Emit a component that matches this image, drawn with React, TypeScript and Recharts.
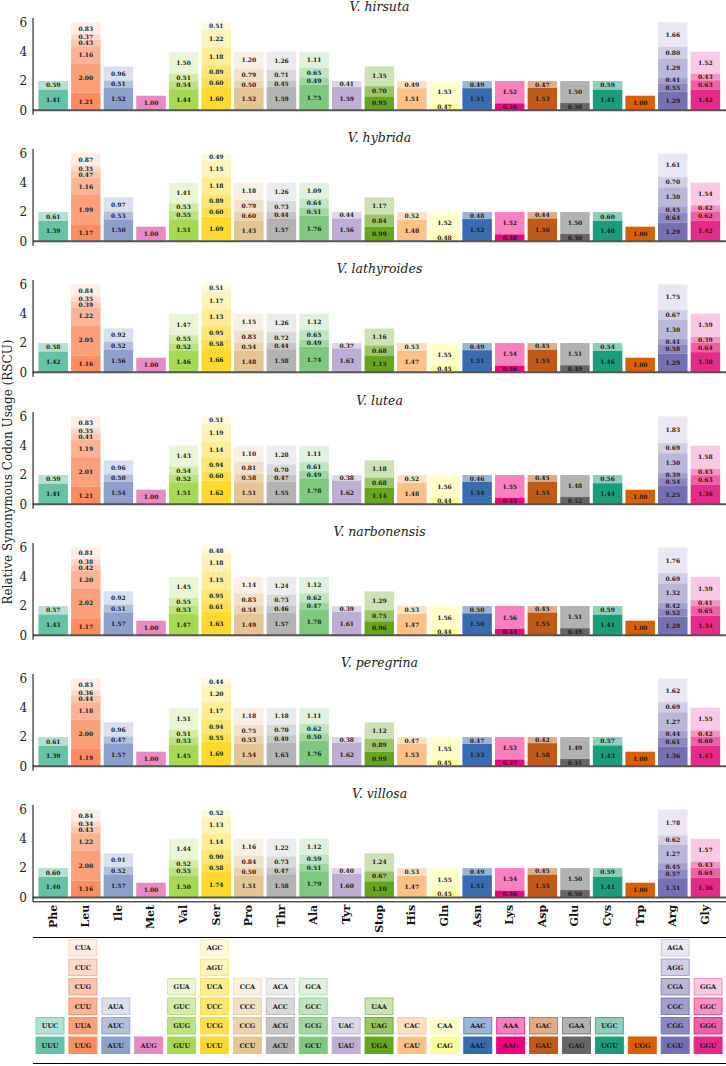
import { BarChart, Bar, XAxis, YAxis, ReferenceLine } from 'recharts';

const FONT = '"DejaVu Serif", serif';

const AMINO_ACIDS = ['Phe', 'Leu', 'Ile', 'Met', 'Val', 'Ser', 'Pro', 'Thr', 'Ala', 'Tyr', 'Stop', 'His', 'Gln', 'Asn', 'Lys', 'Asp', 'Glu', 'Cys', 'Trp', 'Arg', 'Gly'];

// codons of each amino acid, listed from the bottom of the stack upwards
const CODONS = [
  ['UUU', 'UUC'],
  ['UUG', 'UUA', 'CUU', 'CUG', 'CUC', 'CUA'],
  ['AUU', 'AUC', 'AUA'],
  ['AUG'],
  ['GUU', 'GUG', 'GUC', 'GUA'],
  ['UCU', 'UCG', 'UCC', 'UCA', 'AGU', 'AGC'],
  ['CCU', 'CCG', 'CCC', 'CCA'],
  ['ACU', 'ACG', 'ACC', 'ACA'],
  ['GCU', 'GCG', 'GCC', 'GCA'],
  ['UAU', 'UAC'],
  ['UGA', 'UAG', 'UAA'],
  ['CAU', 'CAC'],
  ['CAG', 'CAA'],
  ['AAU', 'AAC'],
  ['AAG', 'AAA'],
  ['GAU', 'GAC'],
  ['GAG', 'GAA'],
  ['UGU', 'UGC'],
  ['UGG'],
  ['CGU', 'CGG', 'CGC', 'CGA', 'AGG', 'AGA'],
  ['GGU', 'GGG', 'GGC', 'GGA'],
];

const AA_COLORS = [
  '#66c2a5', '#fc8d62', '#8da0cb', '#e78ac3', '#a6d854', '#ffd92f', '#e5c494', '#b3b3b3',
  '#7fc97f', '#beaed4', '#66a61e', '#fdc086', '#ffff99', '#386cb0', '#f0027f', '#bf5b17',
  '#666666', '#1b9e77', '#d95f02', '#7570b3', '#e7298a',
];

const SPECIES = ['V. hirsuta', 'V. hybrida', 'V. lathyroides', 'V. lutea', 'V. narbonensis', 'V. peregrina', 'V. villosa'];

const HIRSUTA = [
  [1.41, 0.59], [1.21, 2.00, 1.16, 0.43, 0.37, 0.83], [1.52, 0.51, 0.96], [1.00],
  [1.44, 0.54, 0.51, 1.50], [1.60, 0.60, 0.89, 1.18, 1.22, 0.51], [1.52, 0.50, 0.79, 1.20],
  [1.59, 0.45, 0.71, 1.26], [1.75, 0.49, 0.65, 1.11], [1.59, 0.41], [0.95, 0.70, 1.35],
  [1.51, 0.49], [0.47, 1.53], [1.51, 0.49], [0.48, 1.52], [1.53, 0.47], [0.50, 1.50],
  [1.41, 0.59], [1.00], [1.29, 0.55, 0.41, 1.29, 0.80, 1.66], [1.42, 0.63, 0.43, 1.52],
];
const HYBRIDA = [
  [1.39, 0.61], [1.17, 1.99, 1.16, 0.47, 0.35, 0.87], [1.50, 0.53, 0.97], [1.00],
  [1.51, 0.55, 0.53, 1.41], [1.69, 0.60, 0.89, 1.18, 1.15, 0.49], [1.43, 0.60, 0.79, 1.18],
  [1.57, 0.44, 0.73, 1.26], [1.76, 0.51, 0.64, 1.09], [1.56, 0.44], [0.99, 0.84, 1.17],
  [1.48, 0.52], [0.48, 1.52], [1.52, 0.48], [0.48, 1.52], [1.56, 0.44], [0.50, 1.50],
  [1.40, 0.60], [1.00], [1.29, 0.64, 0.45, 1.30, 0.70, 1.61], [1.42, 0.62, 0.42, 1.54],
];
const LATHYROIDES = [
  [1.42, 0.58], [1.16, 2.05, 1.22, 0.39, 0.35, 0.84], [1.56, 0.52, 0.92], [1.00],
  [1.46, 0.52, 0.55, 1.47], [1.66, 0.58, 0.95, 1.13, 1.17, 0.51], [1.48, 0.54, 0.83, 1.15],
  [1.58, 0.44, 0.72, 1.26], [1.74, 0.49, 0.65, 1.12], [1.63, 0.37], [1.15, 0.68, 1.16],
  [1.47, 0.53], [0.45, 1.55], [1.51, 0.49], [0.46, 1.54], [1.55, 0.45], [0.49, 1.51],
  [1.46, 0.54], [1.00], [1.29, 0.58, 0.41, 1.30, 0.67, 1.75], [1.38, 0.64, 0.39, 1.59],
];
const LUTEA = [
  [1.41, 0.59], [1.21, 2.01, 1.19, 0.41, 0.35, 0.83], [1.54, 0.50, 0.96], [1.00],
  [1.51, 0.52, 0.54, 1.43], [1.62, 0.60, 0.94, 1.14, 1.19, 0.51], [1.51, 0.58, 0.81, 1.10],
  [1.55, 0.47, 0.70, 1.28], [1.78, 0.49, 0.61, 1.11], [1.62, 0.38], [1.14, 0.68, 1.18],
  [1.48, 0.52], [0.44, 1.56], [1.54, 0.46], [0.45, 1.55], [1.55, 0.45], [0.52, 1.48],
  [1.44, 0.56], [1.00], [1.25, 0.54, 0.39, 1.30, 0.69, 1.83], [1.36, 0.63, 0.43, 1.58],
];
const NARBONENSIS = [
  [1.43, 0.57], [1.17, 2.02, 1.20, 0.42, 0.38, 0.81], [1.57, 0.51, 0.92], [1.00],
  [1.47, 0.53, 0.55, 1.45], [1.63, 0.61, 0.95, 1.15, 1.18, 0.48], [1.49, 0.54, 0.83, 1.14],
  [1.57, 0.46, 0.73, 1.24], [1.78, 0.47, 0.62, 1.12], [1.61, 0.39], [0.96, 0.75, 1.29],
  [1.47, 0.53], [0.44, 1.56], [1.50, 0.50], [0.44, 1.56], [1.55, 0.45], [0.49, 1.51],
  [1.41, 0.59], [1.00], [1.28, 0.52, 0.42, 1.32, 0.69, 1.76], [1.34, 0.65, 0.41, 1.59],
];
const PEREGRINA = [
  [1.39, 0.61], [1.19, 2.00, 1.18, 0.44, 0.36, 0.83], [1.57, 0.47, 0.96], [1.00],
  [1.45, 0.53, 0.51, 1.51], [1.69, 0.55, 0.94, 1.17, 1.20, 0.44], [1.54, 0.53, 0.75, 1.18],
  [1.63, 0.49, 0.70, 1.18], [1.76, 0.50, 0.62, 1.11], [1.62, 0.38], [0.99, 0.89, 1.12],
  [1.53, 0.47], [0.45, 1.55], [1.53, 0.47], [0.47, 1.53], [1.58, 0.42], [0.51, 1.49],
  [1.43, 0.57], [1.00], [1.36, 0.61, 0.44, 1.27, 0.69, 1.62], [1.43, 0.60, 0.42, 1.55],
];
const VILLOSA = [
  [1.40, 0.60], [1.16, 2.00, 1.22, 0.43, 0.34, 0.84], [1.57, 0.52, 0.91], [1.00],
  [1.50, 0.55, 0.52, 1.44], [1.74, 0.58, 0.90, 1.14, 1.13, 0.52], [1.51, 0.50, 0.84, 1.16],
  [1.58, 0.47, 0.73, 1.22], [1.79, 0.51, 0.59, 1.12], [1.60, 0.40], [1.10, 0.67, 1.24],
  [1.47, 0.53], [0.45, 1.55], [1.51, 0.49], [0.46, 1.54], [1.55, 0.45], [0.50, 1.50],
  [1.41, 0.59], [1.00], [1.31, 0.57, 0.45, 1.27, 0.62, 1.78], [1.36, 0.64, 0.43, 1.57],
];

const RSCU = [HIRSUTA, HYBRIDA, LATHYROIDES, LUTEA, NARBONENSIS, PEREGRINA, VILLOSA];
const STACK_KEYS = ['c0', 'c1', 'c2', 'c3', 'c4', 'c5'];

const PANEL_STEP = 131.17;

function shade(i: number, k: number) {
  return 1 - k / CODONS[i].length;
}

function makeSegment(k: number) {
  return (p: any) => {
    const v = p.payload[STACK_KEYS[k]];
    if (v == null || !p.height) return null;
    const i = p.payload.idx;
    return (
      <g>
        <rect x={p.x} y={p.y} width={p.width} height={p.height} fill={AA_COLORS[i]} fillOpacity={shade(i, k)} />
        <text x={p.x + p.width / 2} y={p.y + p.height / 2} dy="0.35em" textAnchor="middle"
          fontFamily={FONT} fontWeight="bold" fontSize={6} fill="#1a1a1a">
          {v.toFixed(2)}
        </text>
      </g>
    );
  };
}

function makeLegendBox(k: number) {
  return (p: any) => {
    const i = p.payload.idx;
    if (p.payload[STACK_KEYS[k]] == null) return null;
    const a = shade(i, k);
    return (
      <g>
        <rect x={p.x + 0.5} y={p.y + 1.5} width={p.width - 1} height={p.height - 3}
          fill={AA_COLORS[i]} fillOpacity={a} stroke={AA_COLORS[i]} strokeOpacity={1 - (1 - a) * (1 - a)} />
        <text x={p.x + p.width / 2} y={p.y + p.height / 2} dy="0.35em" textAnchor="middle"
          fontFamily={FONT} fontWeight="bold" fontSize={6.5} fill="#1a1a1a">
          {CODONS[i][k]}
        </text>
      </g>
    );
  };
}

const AATick = (props: any) => {
  const { x, y, payload } = props;
  return (
    <text x={x} y={y} transform={`rotate(-90 ${x} ${y})`} textAnchor="end" dy="0.35em"
      fontFamily={FONT} fontWeight="bold" fontSize={11} fill="#111">
      {payload.value}
    </text>
  );
};

function Panel({ title, values, index, last }: { title: string; values: number[][]; index: number; last: boolean }) {
  const data = AMINO_ACIDS.map((aa, i) => {
    const row: Record<string, string | number> = { aa, idx: i };
    values[i].forEach((v, k) => { row[STACK_KEYS[k]] = v; });
    return row;
  });
  const height = last ? 150 : PANEL_STEP;
  return (
    <div style={{ position: 'absolute', left: 0, top: index * PANEL_STEP, width: 726, height }}>
      <div style={{
        position: 'absolute', left: 33, width: 693, top: 0, textAlign: 'center',
        fontFamily: FONT, fontStyle: 'italic', fontSize: 12.5, lineHeight: '14px', color: '#222',
      }}>
        {title}
      </div>
      <BarChart width={726} height={height} data={data} barSize={29.5}
        margin={{ top: 18, right: 0, left: 0, bottom: last ? 0 : 16.4 }}>
        <XAxis dataKey="aa" hide={!last} height={last ? 35.2 : 0} padding={{ left: 3.4, right: 4.7 }}
          axisLine={{ stroke: '#000' }} tickLine={false} tickSize={0} tickMargin={3} interval={0}
          tick={<AATick />} />
        <YAxis type="number" width={33} domain={[-0.3, 6.3]} ticks={[0, 2, 4, 6]} allowDataOverflow
          tickLine={false} tickSize={0} tickMargin={6} axisLine={{ stroke: '#000' }}
          tick={{ fontSize: 12, fill: '#222', fontFamily: FONT }} />
        {STACK_KEYS.map((key, k) => (
          <Bar key={key} dataKey={key} stackId="rscu" isAnimationActive={false} shape={makeSegment(k)} />
        ))}
        <ReferenceLine y={0} stroke="#555" strokeWidth={2} />
      </BarChart>
    </div>
  );
}

function CodonLegend() {
  const data = AMINO_ACIDS.map((aa, i) => {
    const row: Record<string, string | number> = { aa, idx: i };
    CODONS[i].forEach((_, k) => { row[STACK_KEYS[k]] = 1; });
    return row;
  });
  return (
    <div style={{ position: 'absolute', left: 0, top: 938, width: 726, height: 117 }}>
      <BarChart width={726} height={117} data={data} barSize={29}
        margin={{ top: 0, right: 0, left: 33, bottom: 0 }}>
        <XAxis dataKey="aa" hide padding={{ left: 0.5, right: 1.5 }} />
        <YAxis hide type="number" domain={[0, 6]} />
        {STACK_KEYS.map((key, k) => (
          <Bar key={key} dataKey={key} stackId="legend" isAnimationActive={false} shape={makeLegendBox(k)} />
        ))}
      </BarChart>
    </div>
  );
}

export default function App() {
  return (
    <div style={{ position: 'absolute', left: 0, top: 0, width: 726, height: 1066, background: '#fff', overflow: 'hidden' }}>
      {SPECIES.map((sp, i) => (
        <Panel key={sp} title={sp} values={RSCU[i]} index={i} last={i === SPECIES.length - 1} />
      ))}
      <div style={{
        position: 'absolute', left: 8, top: 472, transform: 'translate(-50%, -50%) rotate(-90deg)',
        whiteSpace: 'nowrap', fontFamily: FONT, fontSize: 12, color: '#222',
      }}>
        Relative Synonymous Codon Usage (RSCU)
      </div>
      <div style={{ position: 'absolute', left: 33, top: 937, width: 693, height: 1, background: '#000' }} />
      <CodonLegend />
      <div style={{ position: 'absolute', left: 33, top: 1063, width: 693, height: 1, background: '#000' }} />
    </div>
  );
}
